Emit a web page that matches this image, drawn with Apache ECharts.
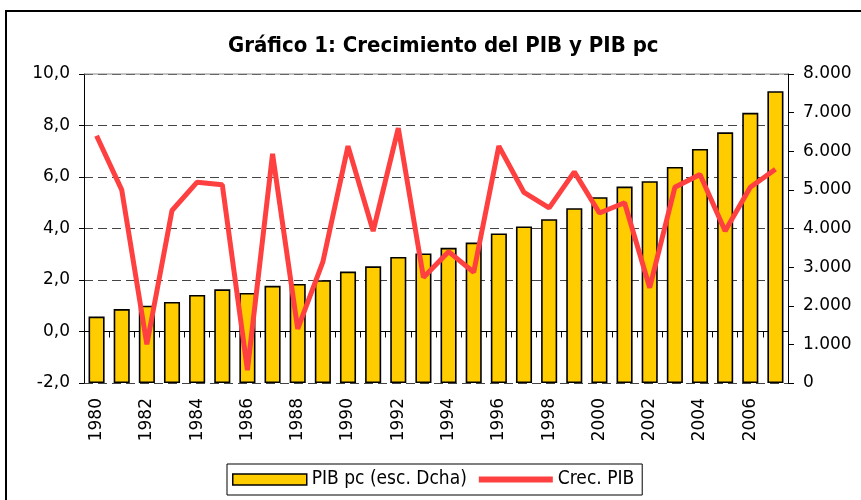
<!DOCTYPE html>
<html>
<head>
<meta charset="utf-8">
<script src="https://cdn.jsdelivr.net/npm/echarts@6/dist/echarts.min.js"></script>
<style>
    html, body { margin: 0; padding: 0; background: #fff; }
    #frame { position: absolute; left: 5px; top: 10px; width: 900px; height: 500px;
             border-left: 2px solid #000; border-top: 2px solid #000; }
    #chart { position: absolute; left: 0; top: 0; width: 861px; height: 500px; }
</style>
</head>
<body>
<div id="frame"></div>
<div id="chart"></div>
<script>
// años
var years = ['1980', '1981', '1982', '1983', '1984', '1985', '1986', '1987', '1988', '1989',
    '1990', '1991', '1992', '1993', '1994', '1995', '1996', '1997', '1998', '1999',
    '2000', '2001', '2002', '2003', '2004', '2005', '2006', '2007'];
// PIB pc (escala dcha)
var pibPc = [1720, 1915, 2000, 2100, 2280, 2425, 2330, 2515, 2565, 2660,
    2885, 3020, 3265, 3355, 3500, 3635, 3870, 4055, 4240, 4525,
    4810, 5085, 5225, 5595, 6060, 6490, 6995, 7555];
// Crec. PIB (%)
var crecPib = [7.6, 5.5, -0.5, 4.7, 5.8, 5.7, -1.5, 6.9, 0.1, 2.7,
    7.2, 3.9, 7.9, 2.1, 3.1, 2.3, 7.2, 5.4, 4.8, 6.2,
    4.6, 5.0, 1.7, 5.6, 6.1, 3.9, 5.6, 6.3];

var labelFont = 'DejaVu Sans, Verdana, sans-serif';
var narrowFont = '"DejaVu Sans Condensed", "Liberation Sans Narrow", "Liberation Sans", sans-serif';

var chart = echarts.init(document.getElementById('chart'));
var option = {
    animation: false,
    backgroundColor: 'transparent',
    title: {
        text: 'Gráfico 1: Crecimiento del PIB y PIB pc',
        left: 223,
        top: 30,
        textStyle: { fontFamily: narrowFont, fontSize: 22, fontWeight: 'bold', color: '#000' }
    },
    legend: {
        left: 227,
        top: 464,
        padding: [6, 8, 6, 5],
        itemGap: 9,
        itemWidth: 74,
        itemHeight: 11,
        borderColor: '#000',
        borderWidth: 1,
        textStyle: { fontFamily: narrowFont, fontSize: 19, color: '#000' },
        data: [
            { name: 'PIB pc (esc. Dcha)', icon: 'rect', itemStyle: { color: '#ffcc00', borderColor: '#000', borderWidth: 1.5 } },
            { name: 'Crec. PIB', itemStyle: { opacity: 0 }, lineStyle: { color: '#ff4040', width: 6, cap: 'butt' } }
        ]
    },
    grid: { left: 84, right: 73, top: 74, bottom: 117 },
    xAxis: {
        type: 'category',
        data: years,
        axisLine: { lineStyle: { color: '#000', width: 1 } },
        axisTick: { show: true, interval: 0, length: 6, lineStyle: { color: '#000' } },
        axisLabel: {
            rotate: 90, interval: 1, margin: 15,
            fontFamily: labelFont, fontSize: 17, color: '#000'
        }
    },
    yAxis: [
        {
            type: 'value',
            min: -2, max: 10, interval: 2,
            axisLine: { show: true, lineStyle: { color: '#000' } },
            axisTick: { show: true, length: 5, lineStyle: { color: '#000' } },
            axisLabel: {
                margin: 14, fontFamily: labelFont, fontSize: 17, color: '#000',
                formatter: function (v) { return v.toFixed(1).replace('.', ','); }
            },
            splitLine: { show: true, lineStyle: { color: '#444', type: [9, 5], width: 1 } }
        },
        {
            type: 'value',
            min: 0, max: 8000, interval: 1000,
            axisLine: { show: true, lineStyle: { color: '#000' } },
            axisTick: { show: true, length: 6, lineStyle: { color: '#000' } },
            axisLabel: {
                margin: 15, fontFamily: labelFont, fontSize: 17, color: '#000',
                formatter: function (v) { return String(v).replace(/\B(?=(\d{3})+(?!\d))/g, '.'); }
            },
            splitLine: { show: false }
        }
    ],
    series: [
        {
            name: 'PIB pc (esc. Dcha)',
            type: 'bar',
            yAxisIndex: 1,
            barWidth: '64%',
            data: pibPc,
            itemStyle: { color: '#ffcc00', borderColor: '#000', borderWidth: 1.6 }
        },
        {
            name: 'Crec. PIB',
            type: 'line',
            yAxisIndex: 0,
            data: crecPib,
            symbol: 'none',
            lineStyle: { color: '#ff4040', width: 5 },
            itemStyle: { color: '#ff4040' }
        }
    ],
    graphic: [
        {
            // borde superior gris del área de trazado
            type: 'line',
            shape: { x1: 84, y1: 74, x2: 788, y2: 74 },
            style: { stroke: '#888', lineWidth: 1 },
            z: 1
        }
    ]
};
chart.setOption(option);
</script>
</body>
</html>
